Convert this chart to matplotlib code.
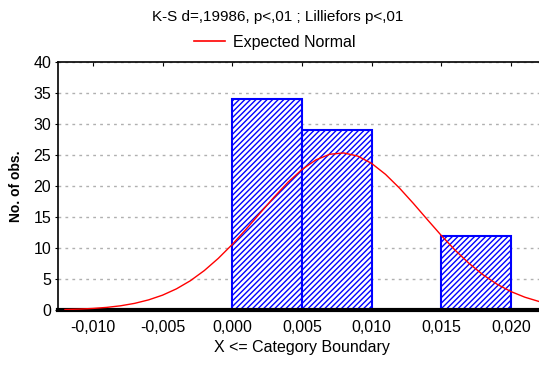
import matplotlib
matplotlib.use("Agg")
import matplotlib.pyplot as plt
from matplotlib.lines import Line2D
from matplotlib.ticker import FixedLocator, FuncFormatter

plt.rcParams["font.family"] = ["Liberation Sans", "DejaVu Sans"]
plt.rcParams["hatch.color"] = "blue"
plt.rcParams["hatch.linewidth"] = 1.0

# histogram bins (left edges), width and counts
bin_left = [0.000, 0.005, 0.015]
bin_width = 0.005
counts = [34, 29, 12]

# expected normal curve
curve_x = [-0.012, -0.011, -0.010, -0.009, -0.008, -0.007, -0.006, -0.005, -0.004,
           -0.003, -0.002, -0.001, 0.000, 0.001, 0.002, 0.003, 0.004, 0.005, 0.006,
           0.007, 0.008, 0.009, 0.010, 0.011, 0.012, 0.013, 0.014, 0.015, 0.016,
           0.017, 0.018, 0.019, 0.020, 0.021, 0.022, 0.023]
curve_y = [0.09, 0.16, 0.27, 0.44, 0.70, 1.09, 1.65, 2.41, 3.43,
           4.74, 6.38, 8.34, 10.58, 13.05, 15.64, 18.21, 20.61, 22.66, 24.21,
           25.13, 25.34, 24.84, 23.66, 21.89, 19.68, 17.20, 14.60, 12.04, 9.65,
           7.52, 5.69, 4.18, 2.99, 2.08, 1.40, 0.93]

x_ticks = [-0.010, -0.005, 0.000, 0.005, 0.010, 0.015, 0.020]
y_ticks = [0, 5, 10, 15, 20, 25, 30, 35, 40]

title = "K-S d=,19986, p<,01 ; Lilliefors p<,01"

fig = plt.figure(figsize=(5.39, 3.67), dpi=100)
ax = fig.add_axes([0.1076, 0.155, 0.905, 0.676])

ax.bar(bin_left, counts, width=bin_width, align="edge", facecolor="white",
       edgecolor="blue", linewidth=1.5, hatch="//////", zorder=2)
ax.plot(curve_x, curve_y, color="red", linewidth=1.0, zorder=3)

ax.set_xlim(-0.0125, 0.0225)
ax.set_ylim(0, 40)
ax.xaxis.set_major_locator(FixedLocator(x_ticks))
ax.yaxis.set_major_locator(FixedLocator(y_ticks))
ax.xaxis.set_major_formatter(FuncFormatter(lambda v, p: f"{v:.3f}".replace(".", ",").replace("-0,000", "0,000")))
ax.yaxis.grid(True, linestyle=(0, (2, 3)), color="#b0b0b0", linewidth=1.0, zorder=0)
ax.set_axisbelow(True)

for side in ["left", "top"]:
    ax.spines[side].set_linewidth(1.2)
ax.spines["bottom"].set_linewidth(3)
ax.spines["right"].set_visible(False)
ax.tick_params(axis="x", direction="in", top=True, bottom=False, length=3,
               labelsize=11.5, pad=7)
ax.tick_params(axis="y", direction="out", length=2, labelsize=11.5, pad=3)

ax.set_xlabel("X <= Category Boundary", fontsize=11.5, labelpad=4)
ax.set_ylabel("No. of obs.", fontsize=10, fontweight="bold", labelpad=7)

fig.text(0.515, 0.955, title, ha="center", va="center", fontsize=11)
handle = Line2D([0], [0], color="red", linewidth=1.2)
fig.legend([handle], ["Expected Normal"], loc="center", bbox_to_anchor=(0.51, 0.885),
           frameon=False, fontsize=11.5, handlelength=1.9, handletextpad=0.5)

fig.savefig("out.png", dpi=100)
